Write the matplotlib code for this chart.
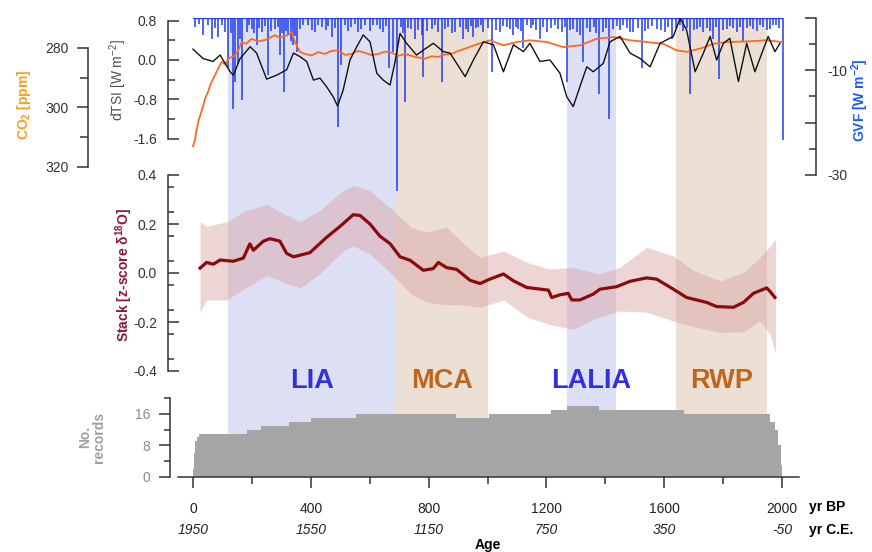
import numpy as np
import matplotlib
matplotlib.use("Agg")
import matplotlib.pyplot as plt

plt.rcParams['font.family'] = ['Liberation Sans', 'DejaVu Sans']
plt.rcParams['mathtext.fontset'] = 'custom'
plt.rcParams['mathtext.rm'] = 'Liberation Sans'
plt.rcParams['mathtext.bf'] = 'Liberation Sans:bold'
plt.rcParams['mathtext.it'] = 'Liberation Sans:italic'

# ---- data ----
periods = ['LIA', 'MCA', 'LALIA', 'RWP']
period_start = [120, 690, 1270, 1640]
period_end = [690, 1000, 1435, 1950]
period_kind = ['cold', 'warm', 'cold', 'warm']

tsi_age = [0, 34, 68, 92, 126, 137, 160, 194, 216, 250, 284, 318, 341, 363, 386, 409, 431,
           453, 476, 491, 510, 533, 556, 578, 601, 624, 646, 669, 686, 703, 725, 759, 782,
           816, 850, 873, 924, 952, 986, 1020, 1054, 1088, 1122, 1144, 1178, 1212, 1246,
           1269, 1291, 1314, 1337, 1359, 1393, 1416, 1450, 1484, 1518, 1552, 1586, 1631,
           1654, 1676, 1705, 1733, 1756, 1778, 1801, 1823, 1852, 1880, 1908, 1953, 1976, 1993]
tsi_val = [0.22, 0.03, -0.03, 0.10, -0.24, -0.31, 0.03, 0.27, 0.14, -0.39, -0.31, -0.20,
           0.14, 0.07, -0.03, -0.41, -0.37, -0.54, -0.75, -0.94, -0.61, 0.00, 0.27, 0.51,
           0.37, -0.27, -0.41, -0.51, -0.04, 0.54, 0.34, 0.10, 0.20, 0.34, 0.17, 0.14, -0.34,
           0.00, 0.37, 0.31, -0.24, 0.31, 0.17, 0.34, -0.03, 0.00, -0.27, -0.75, -0.95, -0.54,
           -0.14, -0.24, -0.07, 0.37, 0.48, 0.14, 0.03, -0.14, 0.34, 0.48, 0.85, 0.61, -0.24,
           0.14, 0.48, 0.00, 0.34, 0.44, -0.44, 0.34, -0.24, 0.48, 0.17, 0.34]

co2_age = [0, 6, 12, 20, 30, 41, 52, 60, 69, 80, 97, 110, 120, 143, 155, 165, 180, 199, 220,
           245, 262, 278, 295, 312, 325, 335, 346, 363, 380, 403, 425, 448, 470, 493, 515,
           538, 560, 584, 605, 629, 652, 675, 698, 720, 754, 788, 810, 833, 855, 878, 900,
           924, 946, 969, 1008, 1054, 1099, 1144, 1201, 1257, 1314, 1371, 1427, 1484, 1540,
           1597, 1642, 1676, 1722, 1767, 1812, 1880, 1948, 1999]
co2_val = [313.0, 311.0, 307.7, 304.0, 301.0, 297.0, 294.5, 292.0, 290.3, 288.0, 284.7, 285.5,
           283.6, 282.5, 280.5, 278.0, 278.6, 276.9, 277.8, 277.3, 276.5, 275.7, 276.6, 276.0,
           275.5, 274.6, 278.0, 281.3, 282.0, 282.5, 281.4, 282.0, 281.0, 280.8, 282.3, 282.0,
           281.0, 281.6, 282.4, 282.0, 281.2, 281.6, 282.6, 282.0, 283.0, 283.6, 282.8, 283.0,
           282.2, 282.0, 281.0, 280.2, 279.4, 278.6, 277.4, 279.1, 278.0, 277.4, 278.0, 279.7,
           279.1, 276.9, 276.3, 277.4, 278.0, 278.6, 280.8, 281.3, 280.2, 278.6, 278.0, 277.8,
           277.4, 278.0]

gvf_age = [7, 20, 35, 50, 63, 75, 86, 98, 109, 120, 128, 135, 143, 154, 161, 168, 182, 190,
           199, 208, 216, 225, 233, 245, 256, 266, 278, 287, 295, 302, 310, 317, 324, 333,
           341, 346, 352, 363, 375, 392, 403, 414, 425, 437, 450, 460, 471, 482, 493, 504,
           515, 527, 538, 550, 561, 572, 585, 601, 612, 624, 635, 646, 656, 666, 680, 692,
           707, 713, 720, 730, 741, 754, 765, 777, 782, 795, 810, 822, 833, 845, 856, 866,
           878, 890, 905, 918, 927, 935, 944, 952, 960, 969, 978, 986, 1000, 1014, 1028,
           1042, 1053, 1065, 1076, 1088, 1097, 1105, 1114, 1122, 1135, 1146, 1156, 1166,
           1178, 1190, 1201, 1215, 1229, 1240, 1252, 1262, 1271, 1281, 1291, 1303, 1314,
           1325, 1337, 1348, 1360, 1370, 1380, 1393, 1404, 1414, 1427, 1440, 1450, 1461,
           1474, 1484, 1495, 1510, 1523, 1535, 1546, 1560, 1574, 1588, 1603, 1614, 1625,
           1640, 1654, 1665, 1676, 1688, 1700, 1710, 1722, 1733, 1745, 1756, 1767, 1777,
           1786, 1800, 1812, 1824, 1835, 1846, 1857, 1869, 1880, 1892, 1903, 1915, 1926,
           1937, 1948, 1959, 1970, 1980, 1990, 2002]
gvf_val = [-1.8, -1.2, -3.4, -1.5, -4.0, -2.0, -3.8, -1.5, -2.8, -9.7, -3.0, -17.4, -12.3,
           -8.9, -4.0, -15.8, -2.8, -1.5, -2.1, -3.0, -5.3, -2.0, -2.8, -1.6, -11.0, -2.5,
           -2.1, -1.8, -7.2, -3.0, -14.2, -2.5, -3.4, -4.5, -5.3, -3.5, -6.6, -2.1, -1.4,
           -1.5, -2.4, -2.8, -1.5, -1.8, -2.4, -1.6, -3.8, -2.0, -20.9, -9.1, -1.5, -2.6,
           -1.8, -1.3, -2.8, -2.1, -1.5, -2.5, -1.4, -1.5, -2.2, -2.8, -1.6, -9.7, -6.6,
           -33.0, -1.8, -3.0, -16.0, -2.0, -2.1, -4.0, -2.3, -3.4, -11.3, -2.5, -2.1, -1.5,
           -2.8, -12.3, -2.2, -1.8, -3.0, -2.8, -1.8, -4.0, -2.2, -2.8, -1.6, -3.8, -2.0,
           -1.8, -1.5, -2.8, -2.0, -10.4, -2.4, -2.8, -1.6, -1.8, -2.2, -3.4, -1.8, -2.1,
           -2.6, -5.9, -1.5, -2.0, -1.5, -2.4, -4.0, -1.8, -2.8, -2.0, -1.5, -2.2, -2.8,
           -1.8, -12.3, -2.4, -2.1, -2.8, -3.4, -8.5, -2.0, -2.8, -1.8, -3.0, -14.5, -2.8,
           -2.0, -19.3, -2.1, -1.6, -2.4, -1.5, -2.0, -2.8, -2.8, -2.0, -9.7, -2.6, -2.1,
           -1.6, -2.1, -2.4, -2.8, -1.8, -4.0, -2.0, -1.5, -2.5, -2.0, -14.5, -2.4, -2.1,
           -1.8, -2.8, -2.0, -2.6, -4.0, -1.8, -11.7, -2.4, -2.1, -1.6, -2.0, -2.8, -1.8,
           -4.5, -2.0, -1.6, -2.1, -2.6, -1.5, -1.8, -2.4, -2.1, -1.5, -1.5, -2.0, -23.3]

stack_age = [24, 46, 69, 92, 137, 171, 193, 205, 239, 261, 295, 318, 341, 397, 453, 499, 544,
             567, 601, 635, 669, 703, 737, 782, 816, 833, 861, 895, 941, 975, 1008, 1054,
             1088, 1133, 1207, 1218, 1246, 1274, 1286, 1314, 1359, 1382, 1438, 1484, 1540,
             1574, 1631, 1676, 1744, 1778, 1835, 1869, 1903, 1948, 1959, 1976]
stack_val = [0.020, 0.043, 0.036, 0.053, 0.048, 0.061, 0.119, 0.093, 0.130, 0.140, 0.130,
             0.080, 0.066, 0.083, 0.145, 0.190, 0.238, 0.235, 0.200, 0.150, 0.120, 0.066,
             0.052, 0.011, 0.018, 0.043, 0.022, 0.015, -0.030, -0.043, -0.025, -0.004,
             -0.032, -0.059, -0.070, -0.100, -0.089, -0.083, -0.110, -0.110, -0.086, -0.066,
             -0.056, -0.034, -0.020, -0.025, -0.066, -0.100, -0.120, -0.137, -0.140, -0.120,
             -0.083, -0.061, -0.075, -0.100]

band_age = [24, 46, 115, 180, 250, 320, 365, 430, 510, 545, 600, 680, 740, 795, 860, 910,
            975, 1055, 1135, 1210, 1290, 1380, 1450, 1540, 1630, 1700, 1790, 1870, 1925,
            1960, 1978]
band_hi = [0.21, 0.19, 0.21, 0.255, 0.28, 0.235, 0.21, 0.255, 0.337, 0.358, 0.337, 0.255,
           0.187, 0.167, 0.187, 0.13, 0.064, 0.09, 0.043, 0.016, 0.023, -0.004, 0.023, 0.105,
           0.07, 0.01, -0.032, 0.003, 0.064, 0.11, 0.14]
band_lo = [-0.16, -0.11, -0.11, -0.06, -0.01, -0.045, -0.06, -0.004, 0.09, 0.11, 0.078,
           -0.01, -0.086, -0.12, -0.13, -0.13, -0.14, -0.11, -0.18, -0.21, -0.23, -0.18,
           -0.155, -0.16, -0.196, -0.22, -0.243, -0.24, -0.196, -0.25, -0.33]

rec_age = [0, 4, 8, 14, 22, 185, 232, 327, 402, 553, 893, 1006, 1214, 1271, 1380, 1667,
           1960, 1975, 1988, 1996, 2000]
rec_n = [2, 6, 9, 10, 11, 12, 13, 14, 15, 16, 15, 16, 17, 18, 17, 16, 14, 12, 8, 3, 0]

bp_ticks = [0, 400, 800, 1200, 1600, 2000]
ce_labels = ['1950', '1550', '1150', '750', '350', '-50']

# ---- colours ----
c_cold, c_warm = '#dde0f5', '#ecdfd3'
c_cold_txt, c_warm_txt = '#3030e0', '#c0661c'
c_tsi = '#111111'
c_co2 = '#ff6a22'
c_gvf = '#1f3cf0'
c_stack = '#8b0a0a'
c_spine = '#333333'

W, H = 872, 552
fig = plt.figure(figsize=(W / 100, H / 100), dpi=100)

def rect(x0, y0, x1, y1):
    return [x0 / W, 1 - y1 / H, (x1 - x0) / W, (y1 - y0) / H]

xlim = (-84.9, 2115.4)

def clean(ax):
    ax.patch.set_alpha(0)
    for s in ax.spines.values():
        s.set_visible(False)
    ax.set_xlim(*xlim)
    ax.tick_params(axis='x', bottom=False, labelbottom=False)
    ax.tick_params(axis='y', left=False, labelleft=False, right=False, labelright=False)

# background shading
ax_bg = fig.add_axes(rect(168, 17.5, 816, 477))
clean(ax_bg)
ax_bg.set_ylim(0, 1)
for name, a, b, kind in zip(periods, period_start, period_end, period_kind):
    ax_bg.axvspan(a, b, color=c_cold if kind == 'cold' else c_warm, lw=0, zorder=0)
    ax_bg.text((a + b) / 2, 0.2082, name, ha='center', va='center', fontsize=19.5,
               fontweight='bold', color=c_cold_txt if kind == 'cold' else c_warm_txt)

# records panel
ax_r = fig.add_axes(rect(168, 398, 816, 477))
clean(ax_r)
ax_r.set_ylim(0, 20)
ax_r.fill_between(rec_age, rec_n, 0, step='post', color='#a5a5a5', lw=0)
ax_r.spines['left'].set_visible(True)
ax_r.spines['left'].set_position(('axes', 0.003))
ax_r.spines['bottom'].set_visible(True)
ax_r.spines['bottom'].set_bounds(-50, 2058)
for s in ('left', 'bottom'):
    ax_r.spines[s].set_color(c_spine)
    ax_r.spines[s].set_linewidth(1.1)
ax_r.set_yticks([0, 8, 16])
ax_r.set_yticks([4, 12, 20], minor=True)
ax_r.tick_params(axis='y', which='both', left=True, labelleft=True, direction='out',
                 colors=c_spine, labelcolor='#8a8a8a', labelsize=10, width=1.1)
ax_r.tick_params(axis='y', which='major', length=8, pad=6)
ax_r.tick_params(axis='y', which='minor', length=4)
ax_r.set_xticks(bp_ticks)
ax_r.set_xticks([200, 600, 1000, 1400, 1800], minor=True)
ax_r.tick_params(axis='x', which='both', bottom=True, labelbottom=True, direction='out',
                 colors=c_spine, labelcolor='#222222', labelsize=10, width=1.1)
ax_r.tick_params(axis='x', which='major', length=8, pad=10)
ax_r.tick_params(axis='x', which='minor', length=5)
ax_r.set_xticklabels([str(t) for t in bp_ticks])
for t, lab in zip(bp_ticks, ce_labels):
    ax_r.text(t, -0.675, lab, ha='center', va='center', fontsize=10, style='italic',
              color='#222222', transform=ax_r.get_xaxis_transform())
ax_r.text(809 / W, 1 - 507 / H, 'yr BP', transform=fig.transFigure, ha='left', va='center',
          fontsize=10, fontweight='bold')
ax_r.text(809 / W, 1 - 530 / H, 'yr C.E.', transform=fig.transFigure, ha='left',
          va='center', fontsize=10, fontweight='bold')
ax_r.text(488 / W, 1 - 545 / H, 'Age', transform=fig.transFigure, ha='center',
          va='center', fontsize=10, fontweight='bold')
fig.text(92 / W, 1 - 437 / H, 'No.\nrecords', rotation=90, ha='center', va='center',
         fontsize=10, fontweight='bold', color='#a0a0a0', linespacing=0.95)

# stack panel
ax_s = fig.add_axes(rect(168, 175, 816, 371))
clean(ax_s)
ax_s.set_ylim(-0.4, 0.4)
ax_s.fill_between(band_age, band_lo, band_hi, color='#d9a3a3', alpha=0.45, lw=0)
ax_s.plot(stack_age, stack_val, color=c_stack, lw=2.3, solid_joinstyle='round')
ax_s.spines['left'].set_visible(True)
ax_s.spines['left'].set_color(c_spine)
ax_s.spines['left'].set_linewidth(1.1)
ax_s.set_yticks([0.4, 0.2, 0.0, -0.2, -0.4])
ax_s.set_yticks(np.arange(-0.35, 0.4, 0.1), minor=True)
ax_s.set_yticklabels(['0.4', '0.2', '0.0', '-0.2', '-0.4'])
ax_s.tick_params(axis='y', which='both', left=True, labelleft=True, direction='in',
                 colors=c_spine, labelcolor='#333333', labelsize=10, width=1.1)
ax_s.tick_params(axis='y', which='major', length=8, pad=8)
ax_s.tick_params(axis='y', which='minor', length=4.5)
fig.text(124 / W, 1 - 275 / H, r'Stack [z-score $\mathbf{\delta^{18}O}$]', rotation=90,
         ha='center', va='center', fontsize=10, fontweight='bold', color='#8b1a36')

# top panel: GVF (back), CO2, dTSI (front)
top = rect(168, 17.5, 816, 175)
ax_g = fig.add_axes(top)
clean(ax_g)
ax_g.set_ylim(-30, 0)
ax_g.vlines(gvf_age, 0, gvf_val, color=c_gvf, lw=1.1, clip_on=False)
ax_g.hlines(0, 0, max(gvf_age), color=c_gvf, lw=1.6)
ax_g.spines['right'].set_visible(True)
ax_g.spines['right'].set_color(c_spine)
ax_g.spines['right'].set_linewidth(1.1)
ax_g.yaxis.set_ticks_position('right')
ax_g.set_yticks([0, -10, -20, -30])
ax_g.set_yticks([-5, -15, -25], minor=True)
ax_g.set_yticklabels(['', '-10', '', '-30'])
ax_g.tick_params(axis='y', which='both', right=True, labelright=True, direction='in',
                 colors=c_spine, labelcolor='#333333', labelsize=10, width=1.1)
ax_g.tick_params(axis='y', which='major', length=8, pad=8)
ax_g.tick_params(axis='y', which='minor', length=5)
fig.text(860 / W, 1 - 100 / H, r'GVF [W m$^{\mathbf{-2}}$]', rotation=90, ha='center',
         va='center', fontsize=10, fontweight='bold', color='#1a5cf5')

ax_c = fig.add_axes(top)
clean(ax_c)
ax_c.set_ylim(322.7, 269.75)
ax_c.plot(co2_age, co2_val, color=c_co2, lw=1.3)
ax_c.spines['left'].set_visible(True)
ax_c.spines['left'].set_position(('axes', -0.1235))
ax_c.spines['left'].set_bounds(280, 320)
ax_c.spines['left'].set_color(c_spine)
ax_c.spines['left'].set_linewidth(1.1)
ax_c.set_yticks([280, 300, 320])
ax_c.set_yticks([290, 310], minor=True)
ax_c.tick_params(axis='y', which='both', left=True, labelleft=True, direction='out',
                 colors=c_spine, labelcolor='#333333', labelsize=10, width=1.1)
ax_c.tick_params(axis='y', which='major', length=8, pad=6)
ax_c.tick_params(axis='y', which='minor', length=6)
fig.text(24 / W, 1 - 105 / H, r'CO$_{\mathbf{2}}$ [ppm]', rotation=90, ha='center',
         va='center', fontsize=10, fontweight='bold', color='#f5a020')

ax_t = fig.add_axes(top)
clean(ax_t)
ax_t.set_ylim(-2.343, 0.865)
ax_t.plot(tsi_age, tsi_val, color=c_tsi, lw=1.0)
ax_t.spines['left'].set_visible(True)
ax_t.spines['left'].set_bounds(-1.6, 0.8)
ax_t.spines['left'].set_color(c_spine)
ax_t.spines['left'].set_linewidth(1.1)
ax_t.set_yticks([0.8, 0.0, -0.8, -1.6])
ax_t.set_yticks([0.4, -0.4, -1.2], minor=True)
ax_t.set_yticklabels(['0.8', '0.0', '-0.8', '-1.6'])
ax_t.tick_params(axis='y', which='both', left=True, labelleft=True, direction='in',
                 colors=c_spine, labelcolor='#333333', labelsize=10, width=1.1)
ax_t.tick_params(axis='y', which='major', length=8, pad=8)
ax_t.tick_params(axis='y', which='minor', length=5)
fig.text(118 / W, 1 - 80 / H, r'dTSI [W m$^{-2}$]', rotation=90, ha='center',
         va='center', fontsize=10, color='#505050')

fig.savefig('out.png', dpi=100)
